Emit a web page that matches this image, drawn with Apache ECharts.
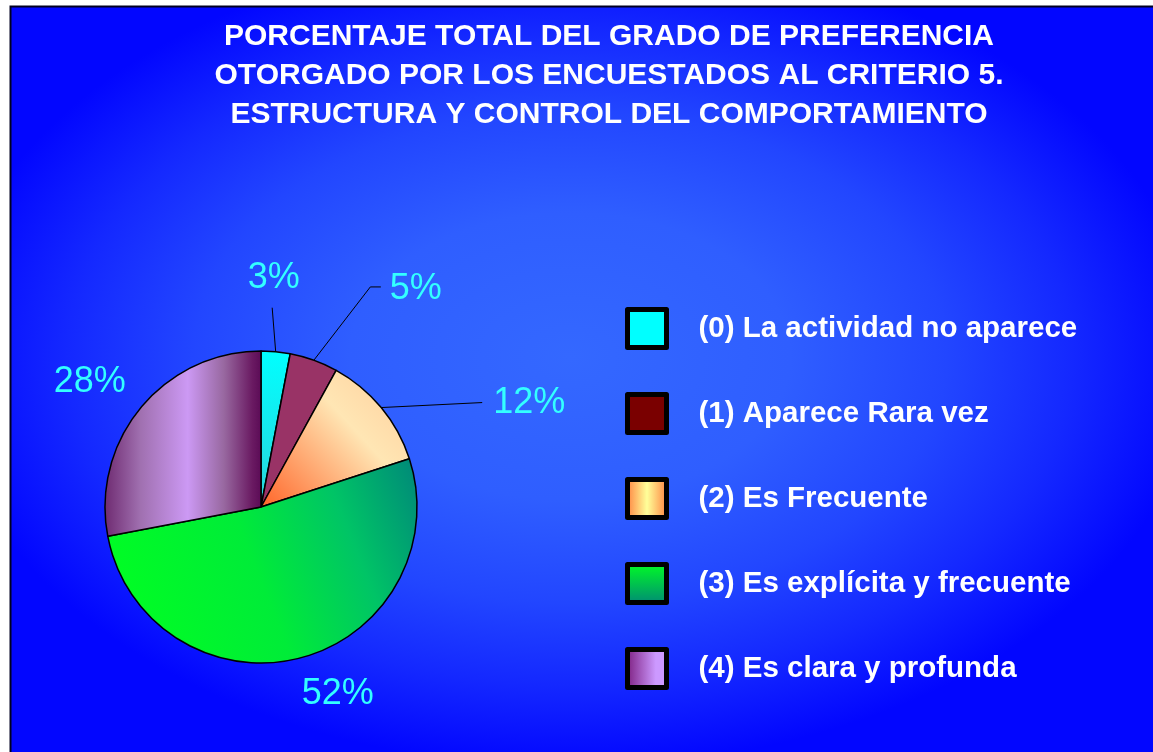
<!DOCTYPE html>
<html>
<head>
<meta charset="utf-8">
<title>Criterio 5</title>
<script src="https://cdn.jsdelivr.net/npm/echarts@6/dist/echarts.min.js"></script>
<style>
  html, body { margin: 0; padding: 0; background: #ffffff; }
  #main { width: 1153px; height: 752px; }
</style>
</head>
<body>
<div id="main"></div>
<script>
/* global echarts */
// datos del grafico
var categories = [
    '(0) La actividad no aparece',
    '(1) Aparece Rara vez',
    '(2) Es Frecuente',
    '(3) Es explícita y frecuente',
    '(4) Es clara y profunda'
];
var percents = [3, 5, 12, 52, 28];
var titleLines = [
    'PORCENTAJE TOTAL DEL GRADO DE PREFERENCIA',
    'OTORGADO POR LOS ENCUESTADOS AL CRITERIO 5.',
    'ESTRUCTURA Y CONTROL DEL COMPORTAMIENTO'
];

var LG = echarts.graphic.LinearGradient;
var RG = echarts.graphic.RadialGradient;

// colores de los sectores
var sliceColors = [
    new LG(0, 0, 0, 1, [{offset: 0, color: '#00ffff'}, {offset: 1, color: '#2ad4da'}]),
    '#993366',
    new LG(0, 1, 1, 0, [{offset: 0, color: '#ff6428'}, {offset: 0.6, color: '#ffe6b4'}, {offset: 1, color: '#ffcc99'}]),
    new LG(0, 0.7, 1, 0.1, [{offset: 0, color: '#00ff22'}, {offset: 0.45, color: '#00ec38'}, {offset: 0.75, color: '#00c466'}, {offset: 1, color: '#008c78'}]),
    new LG(0, 0, 1, 0, [{offset: 0, color: '#6e2a70'}, {offset: 0.23, color: '#a070b0'}, {offset: 0.53, color: '#cc99f4'}, {offset: 0.76, color: '#9868a0'}, {offset: 0.94, color: '#6a1a62'}, {offset: 1, color: '#5a0a55'}])
];
// colores de la leyenda
var legendColors = [
    '#00ffff',
    '#7a0000',
    new LG(0, 0, 1, 0, [{offset: 0, color: '#ff7a3a'}, {offset: 0.5, color: '#ffff99'}, {offset: 1, color: '#ff7a3a'}]),
    new LG(0, 0, 0, 1, [{offset: 0, color: '#00ff22'}, {offset: 1, color: '#008877'}]),
    new LG(0, 0, 1, 0, [{offset: 0, color: '#7a1a7a'}, {offset: 0.7, color: '#cc99ff'}, {offset: 1, color: '#cc99ff'}])
];

var pieCenter = [261, 507];
var pieRadius = 156;
// posicion de las etiquetas respecto al borde del sector
var labelShift = [[-2, -74], [102, -71], [148, -4], [38, 36], [-51, -25]];
// puntos de las lineas guia respecto al centro de la etiqueta
var leaderEnds = [[[-1.5, 30]], [[-45.5, -2.3], [-35, -2.3]], [[-47, -1]], null, null];

function edgePoint(i) {
    var total = 0, before = 0;
    for (var k = 0; k < percents.length; k++) {
        total += percents[k];
        if (k < i) before += percents[k];
    }
    var a = (before + percents[i] / 2) / total * 2 * Math.PI;
    return [pieCenter[0] + pieRadius * Math.sin(a), pieCenter[1] - pieRadius * Math.cos(a)];
}

var myChart = echarts.init(document.getElementById('main'));

var pieData = categories.map(function (name, i) {
    return {
        name: name,
        value: percents[i],
        itemStyle: {color: sliceColors[i]},
        labelLine: {show: leaderEnds[i] != null}
    };
});

var legendData = categories.map(function (name, i) {
    return {name: name, itemStyle: {color: legendColors[i]}};
});

var option = {
    animation: false,
    graphic: [
        {
            type: 'rect',
            silent: true,
            z: -10,
            x: 10,
            y: 6,
            scaleX: 1143 / 746,
            shape: {x: 0, y: 0, width: 746, height: 746},
            style: {
                fill: new RG(0.49, 0.47, 0.55, [
                    {offset: 0, color: '#3468ff'},
                    {offset: 0.35, color: '#2f5eff'},
                    {offset: 0.6, color: '#2246ff'},
                    {offset: 0.8, color: '#1428ff'},
                    {offset: 1, color: '#0206ff'}
                ])
            }
        },
        {
            type: 'polyline',
            silent: true,
            z: -9,
            shape: {points: [[10.5, 752], [10.5, 6.5], [1153, 6.5]]},
            style: {stroke: '#000022', lineWidth: 2, fill: null}
        },
        // titulo
        {
            type: 'text',
            silent: true,
            x: 609,
            y: 17,
            style: {
                text: titleLines.join('\n'),
                align: 'center',
                verticalAlign: 'top',
                fill: '#ffffff',
                fontFamily: 'Liberation Sans, Arial, sans-serif',
                fontWeight: 'bold',
                fontSize: 30,
                lineHeight: 39
            }
        }
    ],
    legend: {
        orient: 'vertical',
        left: 625,
        top: 307,
        padding: 0,
        itemWidth: 39,
        itemHeight: 38,
        itemGap: 42,
        icon: 'rect',
        selectedMode: false,
        itemStyle: {borderColor: '#000000', borderWidth: 5},
        textStyle: {
            color: '#ffffff',
            fontFamily: 'Liberation Sans, Arial, sans-serif',
            fontWeight: 'bold',
            fontSize: 29.5,
            lineHeight: 38,
            padding: [0, 0, 0, 27]
        },
        data: legendData
    },
    series: [
        {
            type: 'pie',
            center: pieCenter,
            radius: pieRadius,
            startAngle: 90,
            clockwise: true,
            avoidLabelOverlap: false,
            silent: true,
            itemStyle: {borderColor: '#000000', borderWidth: 1.5},
            label: {
                show: true,
                position: 'outside',
                formatter: '{c}%',
                color: '#33ffff',
                fontFamily: 'Liberation Sans, Arial, sans-serif',
                fontSize: 36
            },
            labelLine: {
                show: true,
                length: 20,
                length2: 10,
                lineStyle: {color: '#000000', width: 1}
            },
            labelLayout: function (p) {
                var i = p.dataIndex;
                var e = edgePoint(i);
                var lx = e[0] + labelShift[i][0];
                var ly = e[1] + labelShift[i][1];
                var res = {x: lx, y: ly, align: 'center', verticalAlign: 'middle'};
                if (leaderEnds[i]) {
                    var pts = [e];
                    leaderEnds[i].forEach(function (q) {
                        pts.push([lx + q[0], ly + q[1]]);
                    });
                    res.labelLinePoints = pts;
                }
                return res;
            },
            data: pieData
        }
    ]
};
myChart.setOption(option);
</script>
</body>
</html>
